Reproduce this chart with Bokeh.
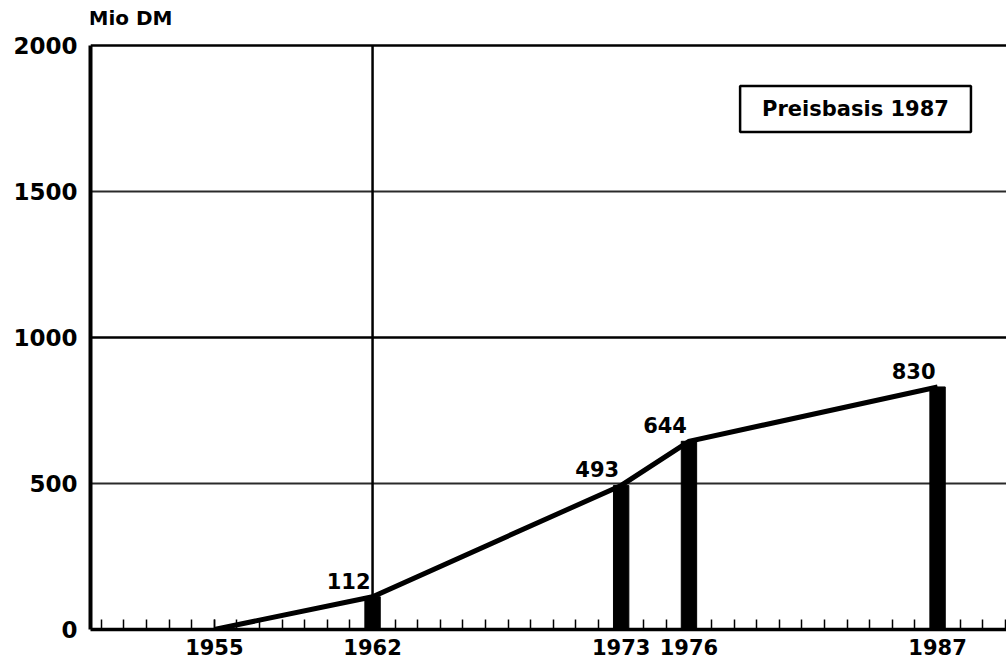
from bokeh.plotting import figure
from bokeh.models import (FixedTicker, Grid, Label, ColumnDataSource, Range1d)
from bokeh.embed import file_html
from bokeh.resources import INLINE

# ---- data ----
line_years = [1955, 1962, 1973, 1976, 1987]
line_values = [0, 112, 493, 644, 830]
bar_years = [1962, 1973, 1976, 1987]
bar_values = [112, 493, 644, 830]
bar_labels = ["112", "493", "644", "830"]
x_tick_years = [1955, 1962, 1973, 1976, 1987]
x_minor_years = list(range(1950, 1991))
y_ticks = [0, 500, 1000, 1500, 2000]
ref_year = [1962]
y_unit = "Mio DM"
note = "Preisbasis 1987"

FONT = "DejaVu Sans"
X0, X1 = 1949.52, 1990.05
YMAX = 2000

p = figure(frame_width=916, frame_height=621,
           x_range=Range1d(X0, X1), y_range=Range1d(0, 2125),
           output_backend="svg", toolbar_location=None,
           min_border_left=90, min_border_right=0, min_border_top=8,
           min_border_bottom=32)
p.outline_line_color = None
p.background_fill_color = "white"
p.border_fill_color = "white"

# axes
p.xaxis.ticker = FixedTicker(ticks=x_tick_years, minor_ticks=x_minor_years)
p.xaxis.axis_line_width = 3.5
p.xaxis.axis_line_color = "black"
p.xaxis.major_tick_in = 10
p.xaxis.major_tick_out = 0
p.xaxis.minor_tick_in = 10
p.xaxis.minor_tick_out = 0
p.xaxis.major_tick_line_width = 1.5
p.xaxis.minor_tick_line_width = 1.5
p.xaxis.major_tick_line_color = "black"
p.xaxis.minor_tick_line_color = "black"
p.xaxis.major_label_text_font = FONT
p.xaxis.major_label_text_font_size = "21px"
p.xaxis.major_label_text_font_style = "bold"
p.xaxis.major_label_text_color = "black"
p.xaxis.major_label_standoff = 9

p.yaxis.ticker = FixedTicker(ticks=y_ticks, minor_ticks=[])
p.yaxis.bounds = (0, YMAX)
p.yaxis.axis_line_width = 4
p.yaxis.axis_line_color = "black"
p.yaxis.major_tick_in = 0
p.yaxis.major_tick_out = 0
p.yaxis.minor_tick_in = 0
p.yaxis.minor_tick_out = 0
p.yaxis.major_label_text_font = FONT
p.yaxis.major_label_text_font_size = "23px"
p.yaxis.major_label_text_font_style = "bold"
p.yaxis.major_label_text_color = "black"
p.yaxis.major_label_standoff = 13

# grids
p.xgrid.visible = False
p.ygrid.ticker = FixedTicker(ticks=[500, 1500])
p.ygrid.grid_line_color = "#2a2a2a"
p.ygrid.grid_line_width = 1.8
thick_grid = Grid(dimension=1, ticker=FixedTicker(ticks=[1000, 2000]),
                  grid_line_color="black", grid_line_width=2.5)
p.add_layout(thick_grid)

# vertical reference line at 1962 (from 0 up to the top of the scale)
p.segment(x0=ref_year, y0=[0], x1=ref_year, y1=[YMAX],
          line_color="black", line_width=2.5)

# bars and line
bars = ColumnDataSource(dict(x=bar_years, top=bar_values, lab=bar_labels))
p.vbar(x="x", top="top", bottom=0, width=0.68, source=bars,
       fill_color="black", line_color="black")
p.line(line_years, line_values, line_color="black", line_width=5,
       line_join="miter")

p.text(x="x", y="top", text="lab", source=bars, text_align="right",
       text_baseline="bottom", x_offset=-2, y_offset=-8,
       text_font_size="21px", text_font_style="bold", text_color="black",
       text_font={"value": FONT})

# unit label above the y axis
unit = Label(x=X0, y=YMAX, text=y_unit, text_align="left",
             text_baseline="bottom", x_offset=-2, y_offset=15,
             text_font=FONT, text_font_size="20px", text_font_style="bold",
             text_color="black")
p.add_layout(unit)

box = Label(x=1983.37, y=1781, text=note, text_align="center",
            text_baseline="middle", text_font=FONT, text_font_size="21px",
            text_font_style="bold", text_color="black",
            border_line_color="black",
            border_line_width=2.5, background_fill_color="white",
            padding=(22, 22, 11, 11))
p.add_layout(box)

open("out.html", "w").write(file_html(p, INLINE))
